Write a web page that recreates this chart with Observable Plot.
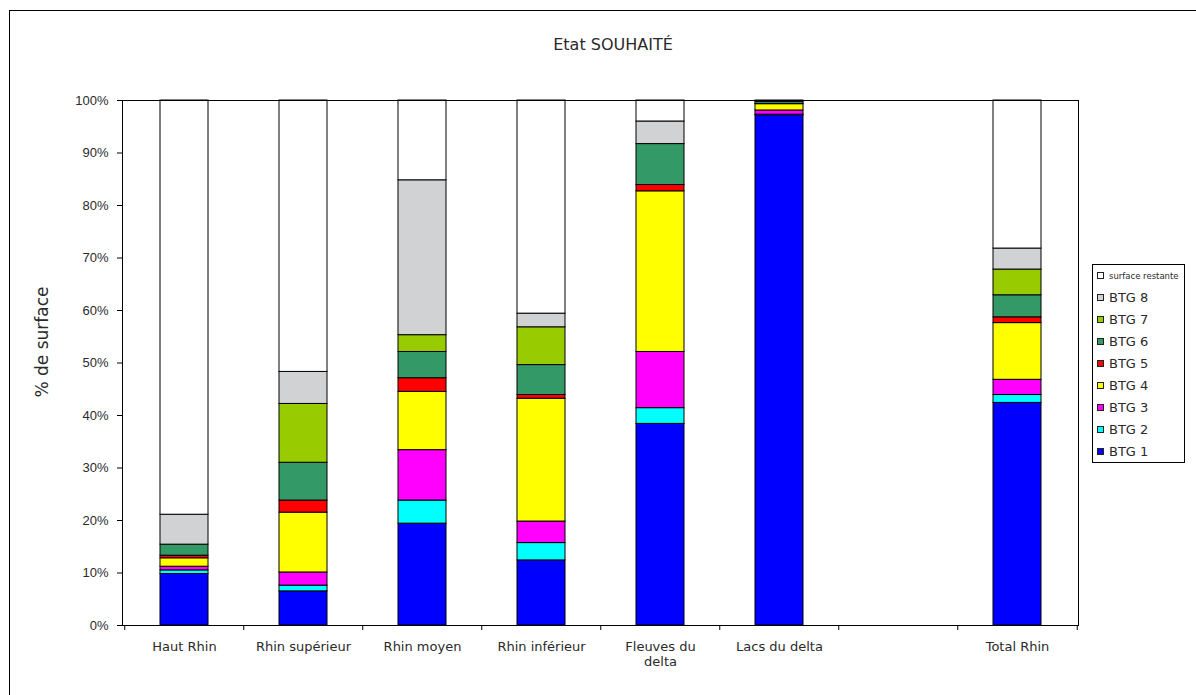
<!DOCTYPE html>
<html>
<head>
<meta charset="utf-8">
<script src="https://cdn.jsdelivr.net/npm/d3@7"></script>
<script src="https://cdn.jsdelivr.net/npm/@observablehq/plot@0.6"></script>
<style>
  body { margin: 0; background: #fff; }
  #wrap { position: relative; width: 1196px; height: 695px; overflow: hidden; font-family: "DejaVu Sans", Verdana, sans-serif; color: #2a2a2a; }
  #wrap svg { position: absolute; left: 0; top: 0; }
  #border { position: absolute; left: 9px; top: 10px; width: 1400px; height: 900px; border-left: 1px solid #000; border-top: 1px solid #000; pointer-events: none; }
  #title { position: absolute; left: 0; width: 1226px; top: 35px; text-align: center; font-size: 16px; line-height: 20px; }
  #legend { position: absolute; left: 1092px; top: 264px; width: 91px; height: 197px; border: 1px solid #000; background: #fff; }
  .item { position: relative; height: 22px; display: flex; align-items: center; }
  .sw { position: absolute; left: 4px; top: 7px; width: 5px; height: 5px; border: 1px solid #222; }
  .lab { position: absolute; left: 16px; top: 0; line-height: 22px; font-size: 13px; white-space: nowrap; }
  .lab.small { font-size: 8.5px; }
</style>
</head>
<body>
<div id="wrap"></div>
<script>
// ---- data ----
const categories = ["Haut Rhin", "Rhin supérieur", "Rhin moyen", "Rhin inférieur", "Fleuves du delta", "Lacs du delta", "", "Total Rhin"];
const seriesNames = ["BTG 1", "BTG 2", "BTG 3", "BTG 4", "BTG 5", "BTG 6", "BTG 7", "BTG 8", "surface restante"];
const seriesColors = ["#0000FF", "#00FFFF", "#FF00FF", "#FFFF00", "#FF0000", "#339966", "#99CC00", "#D1D2D4", "#FFFFFF"];
// values in % of surface, one per category (the empty slot has none)
const btg1 = [9.8, 6.5, 19.4, 12.4, 38.4, 97.2, null, 42.4];
const btg2 = [0.7, 1.1, 4.4, 3.3, 3.0, 0.1, null, 1.5];
const btg3 = [0.7, 2.5, 9.6, 4.1, 10.7, 0.8, null, 2.9];
const btg4 = [1.6, 11.4, 11.1, 23.4, 30.6, 1.2, null, 10.8];
const btg5 = [0.5, 2.3, 2.6, 0.7, 1.2, 0.05, null, 1.1];
const btg6 = [2.1, 7.2, 5.0, 5.7, 7.8, 0.4, null, 4.2];
const btg7 = [0, 11.2, 3.2, 7.2, 0, 0, null, 4.9];
const btg8 = [5.7, 6.1, 29.5, 2.6, 4.3, 0.1, null, 4.0];
const restante = [78.9, 51.7, 15.2, 40.6, 4.0, 0.15, null, 28.2];
const yTicks = [0, 10, 20, 30, 40, 50, 60, 70, 80, 90, 100];
const title = "Etat SOUHAITÉ";
const yTitle = "% de surface";

const seriesValues = [btg1, btg2, btg3, btg4, btg5, btg6, btg7, btg8, restante];
const table = [];
seriesNames.forEach((s, i) => {
  categories.forEach((c, j) => {
    const v = seriesValues[i][j];
    if (v != null && v > 0) table.push({cat: c, series: s, value: v});
  });
});

const W = 1196, H = 695;
const mL = 122, mR = 118, mT = 100, mB = 70;
const halfStep = (W - mL - mR) / categories.length / 2;

const chart = Plot.plot({
  width: W,
  height: H,
  marginLeft: mL,
  marginRight: mR,
  marginTop: mT,
  marginBottom: mB,
  style: {background: "transparent", color: "#2a2a2a", overflow: "visible"},
  x: {domain: categories, paddingInner: 0.6, paddingOuter: 0.3, axis: null},
  y: {domain: [0, 100], axis: null},
  color: {domain: seriesNames, range: seriesColors},
  marks: [
    Plot.barY(table, {x: "cat", y: "value", fill: "series", stroke: "black", strokeWidth: 1}),
    Plot.frame({stroke: "black", strokeWidth: 1}),
    Plot.axisY({ticks: yTicks, tickFormat: d => d + "%", tickSize: 5, tickPadding: 9, stroke: "black",
      fill: "#2a2a2a", fontSize: 13, fontFamily: "Liberation Sans, Arial, sans-serif", label: null}),
    Plot.axisX({tickSize: 0, tickPadding: 15, fontSize: 13, fontFamily: "DejaVu Sans, Verdana, sans-serif",
      fill: "#2a2a2a", label: null, lineHeight: 1.15,
      tickFormat: d => d === "Fleuves du delta" ? "Fleuves du\ndelta" : d}),
    Plot.axisX({tickSize: 5, fill: "none", stroke: "black", dx: -halfStep, label: null}),
    Plot.axisX({ticks: ["Total Rhin"], tickSize: 5, fill: "none", stroke: "black", dx: halfStep, label: null}),
    Plot.text([yTitle], {frameAnchor: "left", dx: -80, dy: -21, rotate: -90, fontSize: 17, textAnchor: "middle",
      fontFamily: "DejaVu Sans, Verdana, sans-serif", fill: "#2a2a2a", lineAnchor: "middle"})
  ]
});

const wrap = document.getElementById("wrap");
wrap.appendChild(chart);

const border = document.createElement("div");
border.id = "border";
wrap.appendChild(border);

const t = document.createElement("div");
t.id = "title";
t.textContent = title;
wrap.appendChild(t);

const legend = document.createElement("div");
legend.id = "legend";
for (let i = seriesNames.length - 1; i >= 0; --i) {
  const item = document.createElement("div");
  item.className = "item";
  const sw = document.createElement("div");
  sw.className = "sw";
  sw.style.background = seriesColors[i];
  const lab = document.createElement("div");
  lab.className = "lab" + (seriesNames[i] === "surface restante" ? " small" : "");
  lab.textContent = seriesNames[i];
  item.appendChild(sw);
  item.appendChild(lab);
  legend.appendChild(item);
}
wrap.appendChild(legend);
</script>
</body>
</html>
